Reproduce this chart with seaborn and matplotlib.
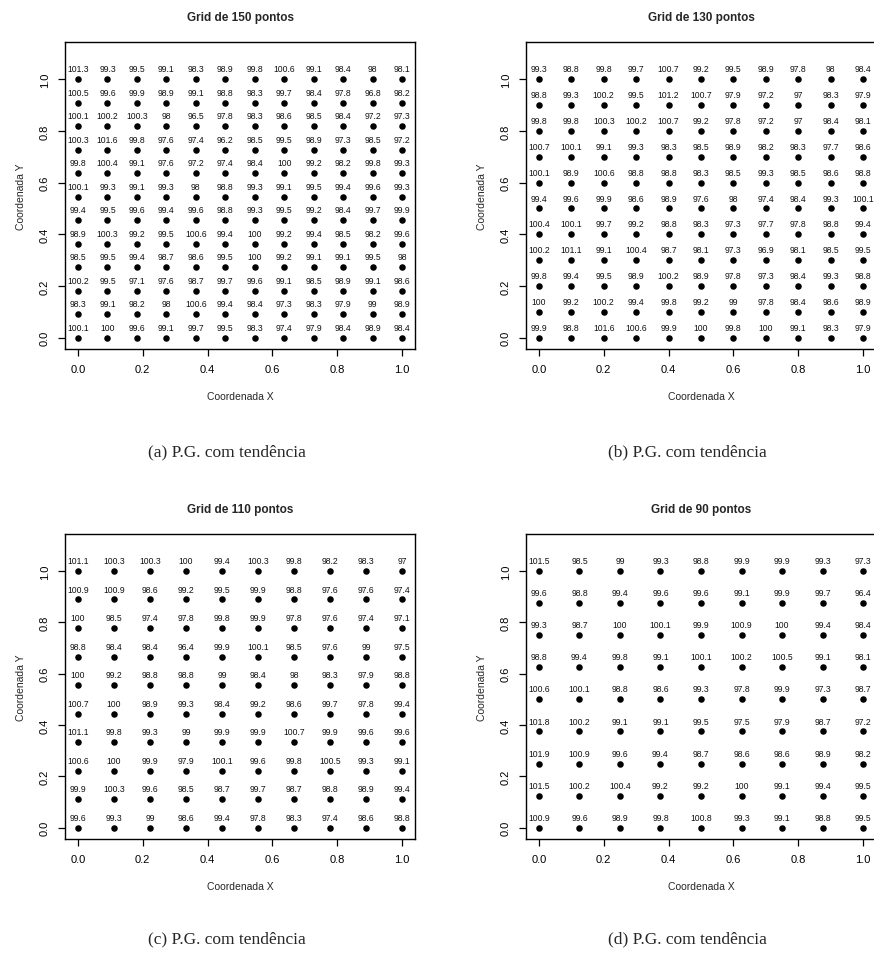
import numpy as np
import pandas as pd
import matplotlib
matplotlib.use("Agg")
import matplotlib.pyplot as plt
import seaborn as sns

# values read row by row, top row (y = 1) first
grid150 = [
    [101.3, 99.3, 99.5, 99.1, 98.3, 98.9, 99.8, 100.6, 99.1, 98.4, 98, 98.1],
    [100.5, 99.6, 99.9, 98.9, 99.1, 98.8, 98.3, 99.7, 98.4, 97.8, 96.8, 98.2],
    [100.1, 100.2, 100.3, 98, 96.5, 97.8, 98.3, 98.6, 98.5, 98.4, 97.2, 97.3],
    [100.3, 101.6, 99.8, 97.6, 97.4, 96.2, 98.5, 99.5, 98.9, 97.3, 98.5, 97.2],
    [99.8, 100.4, 99.1, 97.6, 97.2, 97.4, 98.4, 100, 99.2, 98.2, 99.8, 99.3],
    [100.1, 99.3, 99.1, 99.3, 98, 98.8, 99.3, 99.1, 99.5, 99.4, 99.6, 99.3],
    [99.4, 99.5, 99.6, 99.4, 99.6, 98.8, 99.3, 99.5, 99.2, 98.4, 99.7, 99.9],
    [98.9, 100.3, 99.2, 99.5, 100.6, 99.4, 100, 99.2, 99.4, 98.5, 98.2, 99.6],
    [98.5, 99.5, 99.4, 98.7, 98.6, 99.5, 100, 99.2, 99.1, 99.1, 99.5, 98],
    [100.2, 99.5, 97.1, 97.6, 98.7, 99.7, 99.6, 99.1, 98.5, 98.9, 99.1, 98.6],
    [98.3, 99.1, 98.2, 98, 100.6, 99.4, 98.4, 97.3, 98.3, 97.9, 99, 98.9],
    [100.1, 100, 99.6, 99.1, 99.7, 99.5, 98.3, 97.4, 97.9, 98.4, 98.9, 98.4],
]

grid130 = [
    [99.3, 98.8, 99.8, 99.7, 100.7, 99.2, 99.5, 98.9, 97.8, 98, 98.4],
    [98.8, 99.3, 100.2, 99.5, 101.2, 100.7, 97.9, 97.2, 97, 98.3, 97.9],
    [99.8, 99.8, 100.3, 100.2, 100.7, 99.2, 97.8, 97.2, 97, 98.4, 98.1],
    [100.7, 100.1, 99.1, 99.3, 98.3, 98.5, 98.9, 98.2, 98.3, 97.7, 98.6],
    [100.1, 98.9, 100.6, 98.8, 98.8, 98.3, 98.5, 99.3, 98.5, 98.6, 98.8],
    [99.4, 99.6, 99.9, 98.6, 98.9, 97.6, 98, 97.4, 98.4, 99.3, 100.1],
    [100.4, 100.1, 99.7, 99.2, 98.8, 98.3, 97.3, 97.7, 97.8, 98.8, 99.4],
    [100.2, 101.1, 99.1, 100.4, 98.7, 98.1, 97.3, 96.9, 98.1, 98.5, 99.5],
    [99.8, 99.4, 99.5, 98.9, 100.2, 98.9, 97.8, 97.3, 98.4, 99.3, 98.8],
    [100, 99.2, 100.2, 99.4, 99.8, 99.2, 99, 97.8, 98.4, 98.6, 98.9],
    [99.9, 98.8, 101.6, 100.6, 99.9, 100, 99.8, 100, 99.1, 98.3, 97.9],
]

grid110 = [
    [101.1, 100.3, 100.3, 100, 99.4, 100.3, 99.8, 98.2, 98.3, 97],
    [100.9, 100.9, 98.6, 99.2, 99.5, 99.9, 98.8, 97.6, 97.6, 97.4],
    [100, 98.5, 97.4, 97.8, 99.8, 99.9, 97.8, 97.6, 97.4, 97.1],
    [98.8, 98.4, 98.4, 96.4, 99.9, 100.1, 98.5, 97.6, 99, 97.5],
    [100, 99.2, 98.8, 98.8, 99, 98.4, 98, 98.3, 97.9, 98.8],
    [100.7, 100, 98.9, 99.3, 98.4, 99.2, 98.6, 99.7, 97.8, 99.4],
    [101.1, 99.8, 99.3, 99, 99.9, 99.9, 100.7, 99.9, 99.6, 99.6],
    [100.6, 100, 99.9, 97.9, 100.1, 99.6, 99.8, 100.5, 99.3, 99.1],
    [99.9, 100.3, 99.6, 98.5, 98.7, 99.7, 98.7, 98.8, 98.9, 99.4],
    [99.6, 99.3, 99, 98.6, 99.4, 97.8, 98.3, 97.4, 98.6, 98.8],
]

grid90 = [
    [101.5, 98.5, 99, 99.3, 98.8, 99.9, 99.9, 99.3, 97.3],
    [99.6, 98.8, 99.4, 99.6, 99.6, 99.1, 99.9, 99.7, 96.4],
    [99.3, 98.7, 100, 100.1, 99.9, 100.9, 100, 99.4, 98.4],
    [98.8, 99.4, 99.8, 99.1, 100.1, 100.2, 100.5, 99.1, 98.1],
    [100.6, 100.1, 98.8, 98.6, 99.3, 97.8, 99.9, 97.3, 98.7],
    [101.8, 100.2, 99.1, 99.1, 99.5, 97.5, 97.9, 98.7, 97.2],
    [101.9, 100.9, 99.6, 99.4, 98.7, 98.6, 98.6, 98.9, 98.2],
    [101.5, 100.2, 100.4, 99.2, 99.2, 100, 99.1, 99.4, 99.5],
    [100.9, 99.6, 98.9, 99.8, 100.8, 99.3, 99.1, 98.8, 99.5],
]

titles = ["Grid de 150 pontos", "Grid de 130 pontos", "Grid de 110 pontos", "Grid de 90 pontos"]
captions = ["(a) P.G. com tendência", "(b) P.G. com tendência",
            "(c) P.G. com tendência", "(d) P.G. com tendência"]
ticks = [0.0, 0.2, 0.4, 0.6, 0.8, 1.0]

sns.set_style("ticks")
plt.rcParams['font.family'] = ['Liberation Sans', 'DejaVu Sans']

fig = plt.figure(figsize=(8.74, 9.54), dpi=100)
# axes boxes (fig fraction); right column is cut off at the figure edge like the scan
boxes = [
    [0.0744, 0.6331, 0.4005, 0.3218],
    [0.6018, 0.6331, 0.4005, 0.3218],
    [0.0744, 0.1195, 0.4005, 0.3197],
    [0.6018, 0.1195, 0.4005, 0.3197],
]
cap_pos = [(0.260, 0.526), (0.786, 0.526), (0.260, 0.015), (0.786, 0.015)]


def plot_grid(ax, vals, title):
    vals = np.array(vals)
    nrow, ncol = vals.shape
    xs = np.linspace(0, 1, ncol)
    ys = np.linspace(1, 0, nrow)
    xx, yy = np.meshgrid(xs, ys)
    df = pd.DataFrame({'x': xx.ravel(), 'y': yy.ravel(), 'v': vals.ravel()})
    sns.scatterplot(data=df, x='x', y='y', color='black', s=22, linewidth=0,
                    ax=ax, legend=False)
    for _, r in df.iterrows():
        ax.annotate(f"{r['v']:g}", (r['x'], r['y']), xytext=(0, 7.5),
                    textcoords='offset points', ha='center', va='center',
                    fontsize=6.2, color='#111111')
    ax.set_xlim(-0.04, 1.04)
    ax.set_ylim(-0.044, 1.144)
    ax.set_xticks(ticks)
    ax.set_yticks(ticks)
    ax.set_xticklabels([f"{t:.1f}" for t in ticks])
    ax.set_yticklabels([f"{t:.1f}" for t in ticks], rotation=90, va='center')
    ax.tick_params(direction='out', length=5, width=0.9, labelsize=8, pad=6,
                   colors='black')
    for sp in ax.spines.values():
        sp.set_visible(True)
        sp.set_color('black')
        sp.set_linewidth(1.0)
    ax.set_xlabel('Coordenada X', fontsize=7.5, labelpad=12)
    ax.set_ylabel('Coordenada Y', fontsize=7.5, labelpad=10)
    ax.set_title(title, fontsize=8.5, fontweight='bold', pad=16)


for i, vals in enumerate([grid150, grid130, grid110, grid90]):
    ax = fig.add_axes(boxes[i])
    plot_grid(ax, vals, titles[i])
    fig.text(cap_pos[i][0], cap_pos[i][1], captions[i], ha='center', va='center',
             fontsize=12.5, family=['Liberation Serif', 'DejaVu Serif'])

fig.savefig("out.png", dpi=100)
